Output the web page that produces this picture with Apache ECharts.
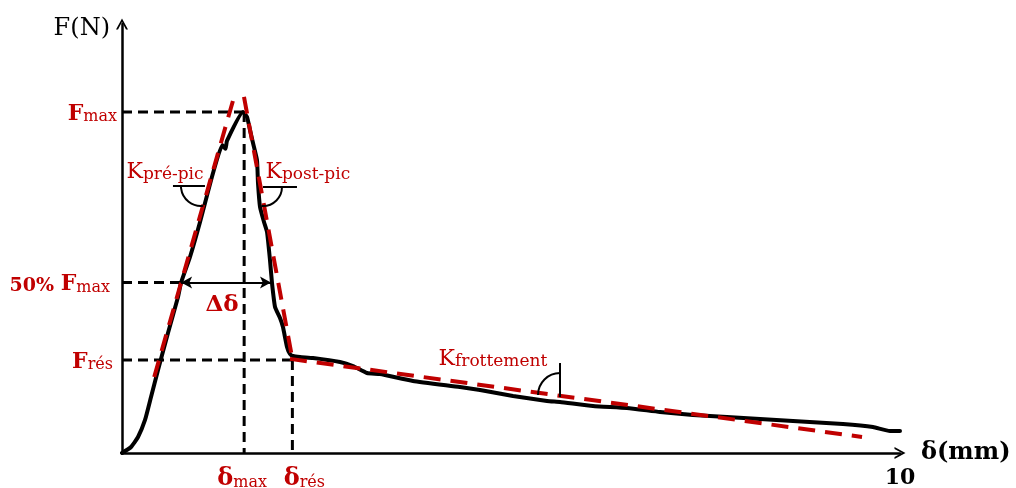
<!DOCTYPE html>
<html>
<head>
<meta charset="utf-8">
<script src="https://cdn.jsdelivr.net/npm/echarts@6/dist/echarts.min.js"></script>
<style>
  html, body { margin: 0; padding: 0; background: #fff; }
  #chart { width: 1016px; height: 488px; }
</style>
</head>
<body>
<div id="chart"></div>
<script>
// Force–displacement curve of a shear test (δ in mm, F scaled so that Fmax = 100)
const curveDelta = [0, 0.116, 0.206, 0.296, 0.373, 0.463, 0.591, 0.720, 0.760, 0.874, 1.003, 1.170,
  1.290, 1.330, 1.350, 1.555, 1.607, 1.645, 1.684, 1.735, 1.748, 1.774, 1.825, 1.864, 1.902, 1.928,
  1.967, 2.031, 2.069, 2.121, 2.159, 2.198, 2.288, 2.455, 2.802, 2.969, 3.149, 3.316, 3.740, 4.344,
  4.602, 5.026, 5.463, 5.630, 6.054, 6.491, 6.915, 7.339, 7.776, 8.201, 8.625, 9.267, 9.653, 9.871, 10.0];
const curveForce = [0, 1.76, 4.69, 9.68, 16.42, 24.34, 35.19, 45.75, 50.0, 57.48, 67.74, 82.11,
  90.3, 89.2, 91.6, 100, 98.53, 94.72, 90.91, 85.92, 79.18, 72.14, 67.74, 64.81, 56.6, 49.85,
  42.82, 39.59, 36.95, 31.09, 29.03, 28.45, 28.15, 27.86, 26.69, 25.51, 23.46, 23.17, 21.11, 19.35,
  18.48, 16.72, 15.25, 14.96, 13.78, 13.2, 12.02, 11.14, 10.56, 9.97, 9.38, 8.5, 7.62, 6.45, 6.45];

// Characteristic values
const F_MAX = 100;
const F_HALF = 50;
const F_RES = 27.3;
const D_MAX = 1.57;
const D_RES = 2.19;
const D_HALF_PRE = 0.76;
const D_HALF_POST = 1.915;

// Fitted stiffness lines, end points [δ, F]
const fitPrePic = [[0.414, 22.3], [1.44, 104.4]];
const fitPostPic = [[1.568, 104.4], [2.185, 28.15]];
const fitFriction = [[2.159, 27.6], [9.512, 4.7]];

// Angle symbols for the three stiffnesses (0: pré-pic, 1: post-pic, 2: frottement)
const angleDelta = [1.015, 1.812, 5.63];
const angleForce = [78.3, 78.0, 17.0];

// Axis labels
const xLabelValues = [10];
const xLabelText = ['{t|10}'];
const yLabelValues = [F_RES, F_HALF, F_MAX];
const yLabelText = ['{b|F}{sr|rés}', '{p|50% }{b|F}{sh|max}', '{b|F}{s|max}'];

// Annotation labels: stiffness names, Δδ, and the δmax / δrés markers under the axis
const noteText = ['{k|K}{n|pré-pic}', '{k|K}{n|post-pic}', '{k|K}{n|frottement}', '{dd|Δδ}',
  '{d|δ}{s|max}', '{d|δ}{s|rés}'];
const noteDelta = [0.051, 1.838, 4.062, 1.285, D_MAX, D_RES];
const noteForce = [83.0, 83.0, 28.2, 43.4, 0, 0];
const notePos = ['right', 'right', 'right', 'inside', 'bottom', 'bottom'];
const notePad = [0, 0, 0, 0, [0, 4, 0, 0], [0, 0, 0, 24]];

const RED = '#c00000';
const FONT = 'DejaVu Serif';
const ARROW = 'path://M0,11 L6,0 L12,11 L10,11 L6,3.6 L2,11 Z';

const zip = (a, b) => a.map((v, i) => [v, b[i]]);

const redRich = {
  b: { fontFamily: FONT, fontSize: 22, fontWeight: 'bold', color: RED, lineHeight: 26, verticalAlign: 'bottom' },
  s: { fontFamily: FONT, fontSize: 16, color: RED, lineHeight: 22, verticalAlign: 'bottom' },
  sr: { fontFamily: FONT, fontSize: 16, color: RED, lineHeight: 22, verticalAlign: 'bottom', padding: [0, 4, 0, 0] },
  sh: { fontFamily: FONT, fontSize: 16, color: RED, lineHeight: 22, verticalAlign: 'bottom', padding: [0, 7, 0, 0] },
  p: { fontFamily: FONT, fontSize: 19, fontWeight: 'bold', color: RED, lineHeight: 25, verticalAlign: 'bottom' },
  d: { fontFamily: FONT, fontSize: 24, fontWeight: 'bold', color: RED, lineHeight: 28, verticalAlign: 'bottom' },
  t: { fontFamily: FONT, fontSize: 22, fontWeight: 'bold', color: '#000', lineHeight: 28, verticalAlign: 'bottom' },
  k: { fontFamily: FONT, fontSize: 22, color: RED, lineHeight: 27, verticalAlign: 'bottom' },
  n: { fontFamily: FONT, fontSize: 17, color: RED, lineHeight: 23, verticalAlign: 'bottom' },
  dd: { fontFamily: FONT, fontSize: 23, fontWeight: 'bold', color: RED, lineHeight: 27 }
};

function dashed(seg, color, width, dash, z) {
  return {
    type: 'line', data: seg, symbol: 'none', silent: true, z: z, animation: false,
    lineStyle: { color: color, width: width, type: dash, cap: 'butt' }
  };
}

const guides = [
  [[0, F_MAX], [D_MAX, F_MAX]],
  [[D_MAX, F_MAX], [D_MAX, 0]],
  [[0, F_HALF], [D_HALF_PRE, F_HALF]],
  [[0, F_RES], [D_RES, F_RES]],
  [[D_RES, F_RES], [D_RES, 0]]
];

const series = [];
guides.forEach(g => series.push(dashed(g, '#000', 3, [10, 6], 2)));

series.push({
  type: 'line', data: zip(curveDelta, curveForce), symbol: 'none', smooth: 0.15, z: 3,
  silent: true, animation: false,
  lineStyle: { color: '#000', width: 4, cap: 'round', join: 'round' }
});

[fitPrePic, fitPostPic, fitFriction].forEach(f => series.push(dashed(f, RED, 4, [17, 10], 4)));

// Δδ double arrow at half peak force
series.push({
  type: 'line', data: [], z: 5, silent: true, animation: false,
  markLine: {
    silent: true, animation: false,
    symbol: ['arrow', 'arrow'], symbolSize: [9, 11],
    label: { show: false },
    lineStyle: { color: '#000', width: 2, type: 'solid' },
    data: [[{ coord: [D_HALF_PRE, F_HALF] }, { coord: [D_HALF_POST, F_HALF] }]]
  }
});

// Angle symbols
series.push({
  type: 'custom', z: 5, silent: true, animation: false,
  data: angleDelta.map((d, i) => [d, angleForce[i], i]),
  renderItem: function (params, api) {
    const c = api.coord([api.value(0), api.value(1)]);
    const kind = api.value(2);
    const st = { stroke: '#000', lineWidth: 2, fill: null };
    let line, arc;
    if (kind === 0) {
      line = { x1: c[0] - 28, y1: c[1], x2: c[0] + 4, y2: c[1] };
      arc = { cx: c[0], cy: c[1], r: 20, startAngle: 1.45, endAngle: Math.PI, clockwise: true };
    } else if (kind === 1) {
      line = { x1: c[0], y1: c[1], x2: c[0] + 34, y2: c[1] };
      arc = { cx: c[0], cy: c[1], r: 19, startAngle: 0, endAngle: 1.65, clockwise: true };
    } else {
      line = { x1: c[0], y1: c[1] - 32, x2: c[0], y2: c[1] + 2 };
      arc = { cx: c[0], cy: c[1], r: 22, startAngle: Math.PI, endAngle: 1.5 * Math.PI, clockwise: true };
    }
    return {
      type: 'group',
      children: [
        { type: 'line', shape: line, style: st },
        { type: 'arc', shape: arc, style: st }
      ]
    };
  }
});

// Annotation labels
series.push({
  type: 'scatter', z: 6, silent: true, animation: false,
  symbolSize: 1, itemStyle: { color: 'rgba(0,0,0,0)', opacity: 1 },
  labelLayout: { hideOverlap: false },
  data: noteDelta.map((d, i) => ({
    value: [d, noteForce[i]],
    label: {
      show: true, position: notePos[i], distance: notePos[i] === 'bottom' ? 9 : 0,
      padding: notePad[i], opacity: 1, formatter: noteText[i], rich: redRich
    }
  }))
});

const chart = echarts.init(document.getElementById('chart'), null, { renderer: 'canvas' });
chart.setOption({
  animation: false,
  backgroundColor: '#fff',
  grid: { left: 122, right: 116, top: 24, bottom: 35, containLabel: false, outerBoundsMode: 'none' },
  xAxis: {
    type: 'value', min: 0, max: 10, interval: 10,
    name: 'δ(mm)', nameLocation: 'end', nameGap: 21,
    nameTextStyle: { fontFamily: FONT, fontSize: 24, fontWeight: 'bold', color: '#000', verticalAlign: 'middle', padding: [8, 0, 0, 0] },
    axisLine: { show: true, onZero: false, symbol: ['none', ARROW], symbolSize: [12, 11], lineStyle: { color: '#000', width: 2.5 } },
    axisTick: { show: false },
    splitLine: { show: false },
    axisLabel: {
      customValues: xLabelValues, margin: 8, hideOverlap: false,
      formatter: v => { const i = xLabelValues.findIndex(x => Math.abs(x - v) < 1e-6); return i < 0 ? '' : xLabelText[i]; },
      rich: redRich
    }
  },
  yAxis: {
    type: 'value', min: 0, max: 125.8,
    name: 'F(N)', nameLocation: 'end', nameGap: -5,
    nameTextStyle: { fontFamily: FONT, fontSize: 24, color: '#000', align: 'right', verticalAlign: 'middle', padding: [0, 12, 0, 0] },
    axisLine: { show: true, onZero: false, symbol: ['none', ARROW], symbolSize: [12, 11], lineStyle: { color: '#000', width: 2.5 } },
    axisTick: { show: false },
    splitLine: { show: false },
    axisLabel: {
      customValues: yLabelValues, margin: 5, hideOverlap: false,
      formatter: v => { const i = yLabelValues.findIndex(y => Math.abs(y - v) < 1e-6); return i < 0 ? '' : yLabelText[i]; },
      rich: redRich
    }
  },
  series: series
});
</script>
</body>
</html>
